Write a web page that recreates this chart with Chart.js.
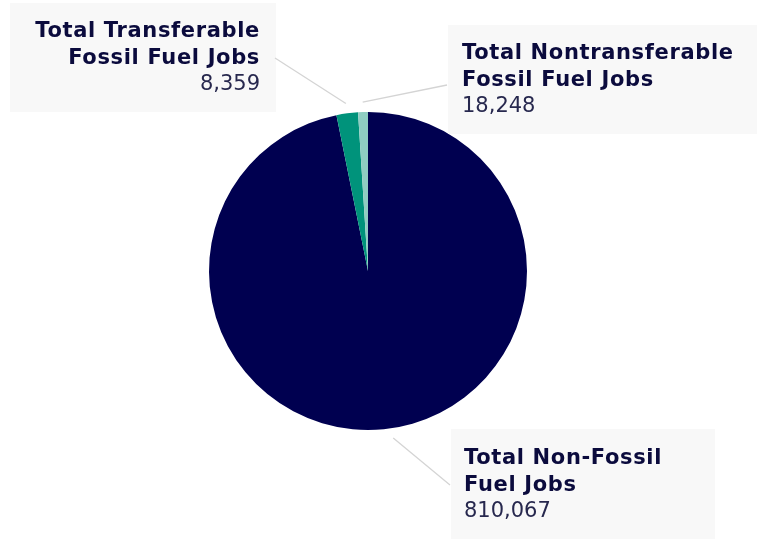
<!DOCTYPE html>
<html>
<head>
<meta charset="utf-8">
<script src="https://cdn.jsdelivr.net/npm/chart.js@4"></script>
<style>
  html, body { margin: 0; padding: 0; background: #ffffff; }
  #wrap { width: 759px; height: 539px; position: relative; }
</style>
</head>
<body>
<div id="wrap"><canvas id="c" width="759" height="539"></canvas></div>
<script>
// ---- data ----
const categories = ["Total Non-Fossil Fuel Jobs", "Total Nontransferable Fossil Fuel Jobs", "Total Transferable Fossil Fuel Jobs"];
const jobValues = [810067, 18248, 8359];
const sliceColors = ["#000050", "#00937b", "#8fcdc2"];
// label text lines (title lines, then the value)
const labelTitles = [
  ["Total Non-Fossil", "Fuel Jobs"],
  ["Total Nontransferable", "Fossil Fuel Jobs"],
  ["Total Transferable", "Fossil Fuel Jobs"]
];

// ---- label boxes (layout) ----
const boxes = [
  { arc: 0, x: 451, y: 429, w: 264, h: 110, align: 'left',  tx: 464, by: 464, lx: 450, ly: 485, da: -0.05 },
  { arc: 2, x: 448, y: 25,  w: 309, h: 109, align: 'left',  tx: 462, by: 59,  lx: 447, ly: 85,  da: 0 },
  { arc: 1, x: 10,  y: 3,   w: 266, h: 109, align: 'right', tx: 260, by: 37,  lx: 275, ly: 58,  da: 0 }
];

const fmt = v => v.toLocaleString('en-US');

const labelPlugin = {
  id: 'labelBoxes',
  afterDraw(chart) {
    const ctx = chart.ctx;
    const meta = chart.getDatasetMeta(0);
    ctx.save();
    boxes.forEach((b, i) => {
      ctx.fillStyle = '#f8f8f8';
      ctx.fillRect(b.x, b.y, b.w, b.h);
      ctx.textAlign = b.align;
      ctx.textBaseline = 'alphabetic';
      ctx.fillStyle = '#0b0b3d';
      ctx.font = 'bold 21px "DejaVu Sans", Verdana, sans-serif';
      ctx.letterSpacing = '0.65px';
      labelTitles[i].forEach((t, k) => ctx.fillText(t, b.tx, b.by + k * 26.5));
      ctx.fillStyle = '#27284e';
      ctx.font = '21px "DejaVu Sans", Verdana, sans-serif';
      ctx.letterSpacing = '0px';
      ctx.fillText(fmt(jobValues[i]), b.tx, b.by + 2 * 26.5);

      // leader line to the slice, from arc geometry
      const arc = meta.data[b.arc];
      const p = arc.getProps(['x', 'y', 'startAngle', 'endAngle', 'outerRadius'], true);
      const mid = (p.startAngle + p.endAngle) / 2 + b.da;
      const r = p.outerRadius + 10;
      const ax = p.x + Math.cos(mid) * r;
      const ay = p.y + Math.sin(mid) * r;
      ctx.strokeStyle = '#d4d4d4';
      ctx.lineWidth = 1.3;
      ctx.beginPath();
      ctx.moveTo(b.lx, b.ly);
      ctx.lineTo(ax, ay);
      ctx.stroke();
    });
    ctx.restore();
  }
};

new Chart(document.getElementById('c'), {
  type: 'pie',
  data: {
    labels: categories,
    datasets: [{
      data: jobValues,
      backgroundColor: sliceColors,
      borderWidth: 0
    }]
  },
  options: {
    responsive: false,
    animation: false,
    layout: { padding: { left: 0, right: 23, top: 112, bottom: 109 } },
    plugins: {
      legend: { display: false },
      tooltip: { enabled: false }
    }
  },
  plugins: [labelPlugin]
});
</script>
</body>
</html>
